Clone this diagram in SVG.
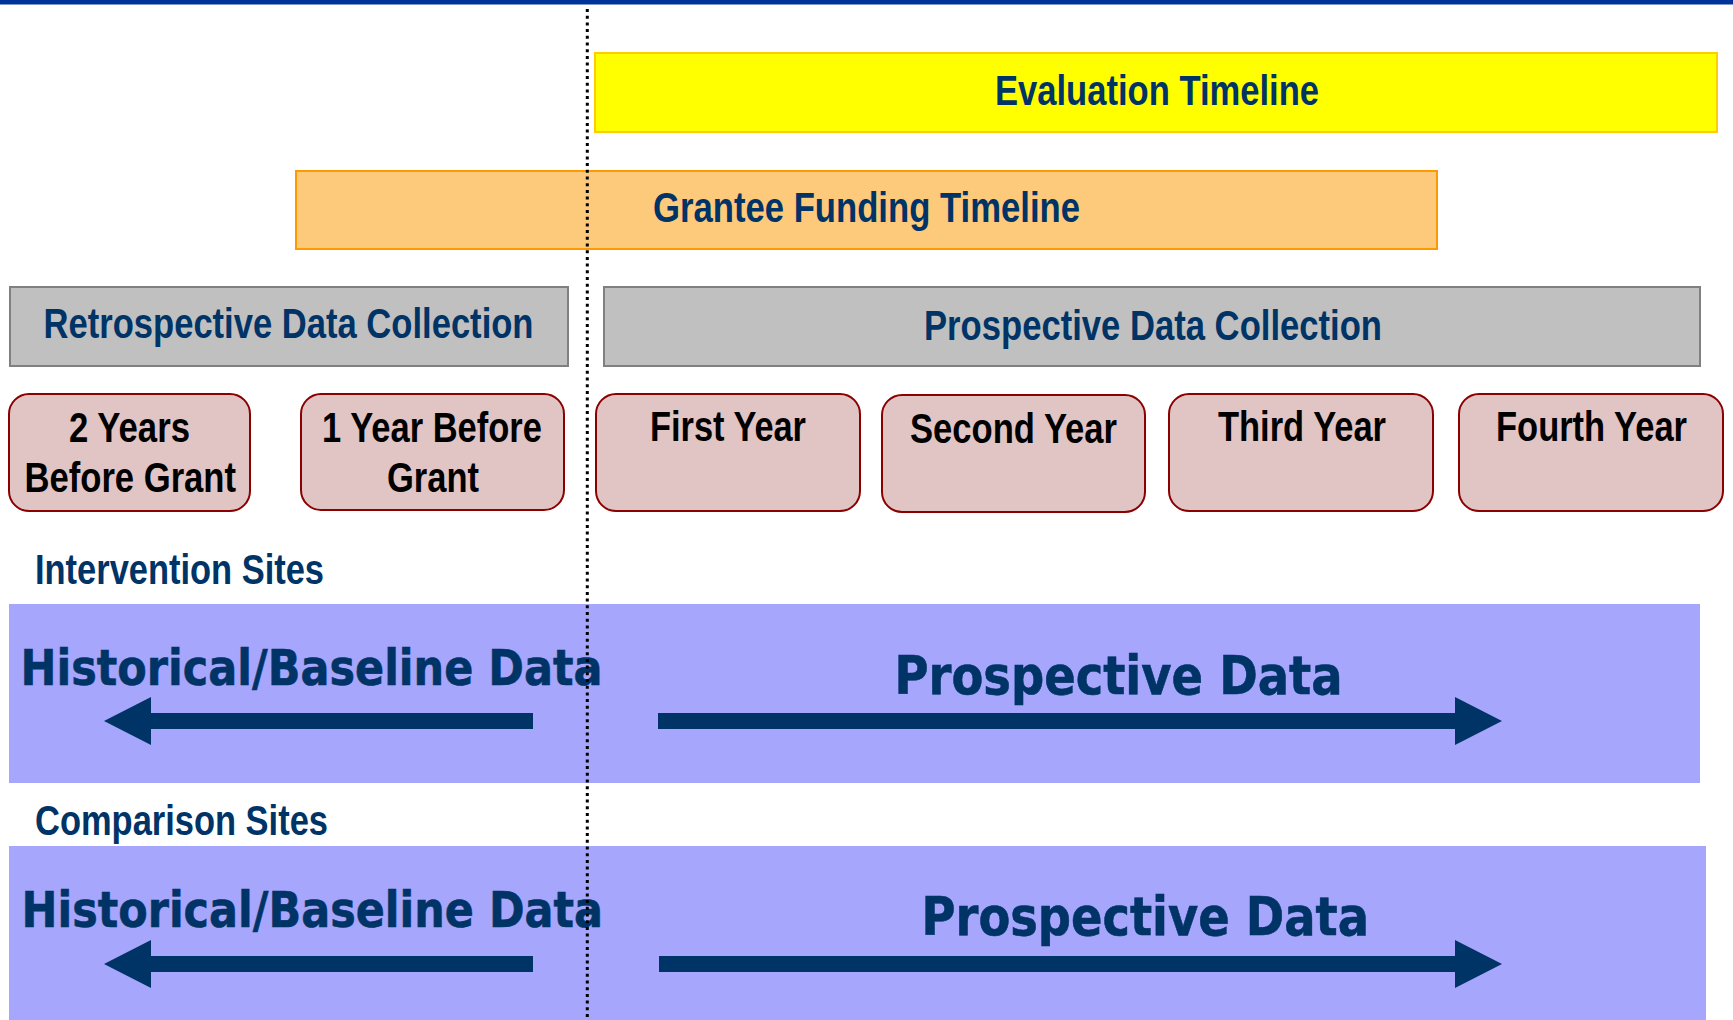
<svg xmlns="http://www.w3.org/2000/svg" width="1733" height="1020" viewBox="0 0 1733 1020">
  <style>
    .hdr { font-family: "Liberation Sans Narrow", "Liberation Sans", Arial, sans-serif; font-weight: bold; font-size: 42px; fill: #003366; }
    .yr { font-family: "Liberation Sans Narrow", "Liberation Sans", Arial, sans-serif; font-weight: bold; font-size: 42px; fill: #000000; }
    .big { font-family: "DejaVu Sans", Verdana, sans-serif; font-weight: bold; fill: #003366; stroke: #003366; stroke-width: 0.6; }
    .year-box { fill: #E1C4C4; stroke: #8B0000; stroke-width: 2; }
    .band { fill: #A6A6FC; }
    .phase { fill: #C0C0C0; stroke: #808080; stroke-width: 2; }
    .arrow { fill: #003366; }
  </style>

  <rect x="0" y="0" width="1733" height="1020" fill="#FFFFFF"/>
  <!-- header rule -->
  <rect x="0" y="0" width="1733" height="4.5" fill="#003399"/>

  <!-- timeline bars -->
  <g id="evaluation-timeline">
    <rect x="595" y="53" width="1122" height="79" fill="#FFFF00" stroke="#FFCC00" stroke-width="2"/>
    <text class="hdr" x="995" y="105" textLength="324" lengthAdjust="spacingAndGlyphs">Evaluation Timeline</text>
  </g>
  <g id="funding-timeline">
    <rect x="296" y="171" width="1141" height="78" fill="#FDC97A" stroke="#FF9900" stroke-width="2"/>
    <text class="hdr" x="653" y="222" textLength="427" lengthAdjust="spacingAndGlyphs">Grantee Funding Timeline</text>
  </g>

  <!-- data collection phases -->
  <g id="retrospective-collection">
    <rect class="phase" x="10" y="287" width="558" height="79"/>
    <text class="hdr" x="43.5" y="338" textLength="490" lengthAdjust="spacingAndGlyphs">Retrospective Data Collection</text>
  </g>
  <g id="prospective-collection">
    <rect class="phase" x="604" y="287" width="1096" height="79"/>
    <text class="hdr" x="924" y="340" textLength="458" lengthAdjust="spacingAndGlyphs">Prospective Data Collection</text>
  </g>

  <!-- year boxes -->
  <g id="year-minus-2">
    <rect class="year-box" x="9" y="394" width="241" height="117" rx="20" ry="20"/>
    <text class="yr" x="69" y="442" textLength="121" lengthAdjust="spacingAndGlyphs">2 Years</text>
    <text class="yr" x="24.5" y="492" textLength="211.5" lengthAdjust="spacingAndGlyphs">Before Grant</text>
  </g>
  <g id="year-minus-1">
    <rect class="year-box" x="301" y="394" width="263" height="116" rx="20" ry="20"/>
    <text class="yr" x="322" y="442" textLength="220" lengthAdjust="spacingAndGlyphs">1 Year Before</text>
    <text class="yr" x="387" y="492" textLength="92" lengthAdjust="spacingAndGlyphs">Grant</text>
  </g>
  <g id="year-1">
    <rect class="year-box" x="596" y="394" width="264" height="117" rx="20" ry="20"/>
    <text class="yr" x="650" y="441" textLength="156" lengthAdjust="spacingAndGlyphs">First Year</text>
  </g>
  <g id="year-2">
    <rect class="year-box" x="882" y="395" width="263" height="117" rx="20" ry="20"/>
    <text class="yr" x="910" y="443" textLength="207" lengthAdjust="spacingAndGlyphs">Second Year</text>
  </g>
  <g id="year-3">
    <rect class="year-box" x="1169" y="394" width="264" height="117" rx="20" ry="20"/>
    <text class="yr" x="1218" y="441" textLength="168" lengthAdjust="spacingAndGlyphs">Third Year</text>
  </g>
  <g id="year-4">
    <rect class="year-box" x="1459" y="394" width="264" height="117" rx="20" ry="20"/>
    <text class="yr" x="1496" y="441" textLength="191" lengthAdjust="spacingAndGlyphs">Fourth Year</text>
  </g>

  <!-- site groups -->
  <g id="intervention-sites">
    <text class="hdr" x="35" y="584" textLength="289" lengthAdjust="spacingAndGlyphs">Intervention Sites</text>
    <rect class="band" x="9" y="604" width="1691" height="179"/>
    <text class="big" x="20.5" y="685" font-size="49" textLength="582" lengthAdjust="spacingAndGlyphs">Historical/Baseline Data</text>
    <text class="big" x="894.5" y="694" font-size="53" textLength="448" lengthAdjust="spacingAndGlyphs">Prospective Data</text>
  </g>
  <g id="comparison-sites">
    <text class="hdr" x="35" y="835" textLength="293" lengthAdjust="spacingAndGlyphs">Comparison Sites</text>
    <rect class="band" x="9" y="846" width="1697" height="180"/>
    <text class="big" x="21.5" y="927" font-size="49" textLength="581.5" lengthAdjust="spacingAndGlyphs">Historical/Baseline Data</text>
    <text class="big" x="921.6" y="935" font-size="53" textLength="447.4" lengthAdjust="spacingAndGlyphs">Prospective Data</text>
  </g>

  <!-- direction arrows -->
  <g id="connectors">
    <polygon class="arrow" points="533,713 151,713 151,697 104,721 151,745 151,729 533,729"/>
    <polygon class="arrow" points="658,713 1455,713 1455,697 1502,721 1455,745 1455,729 658,729"/>
    <polygon class="arrow" points="533,956 151,956 151,940 104,964 151,988 151,972 533,972"/>
    <polygon class="arrow" points="659,956 1455,956 1455,940 1502,964 1455,988 1455,972 659,972"/>
  </g>

  <!-- grant start marker -->
  <line x1="587.3" y1="9" x2="587.3" y2="1020" stroke="#000000" stroke-width="3" stroke-dasharray="3 3.7"/>
</svg>
